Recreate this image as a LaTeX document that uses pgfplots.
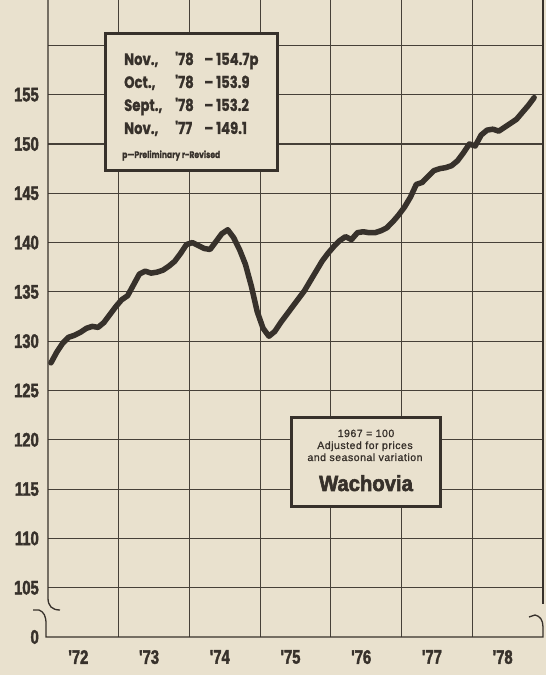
\documentclass[border=0pt]{standalone}
\usepackage{pgfplots}
\pgfplotsset{compat=1.18}
\usepackage{fontspec}
\setmainfont{Liberation Sans}
\newfontfamily\tickfont{Liberation Sans Bold}[FakeStretch=0.76, FakeBold=2]
\newfontfamily\boxfont{Poppins Bold}[FakeStretch=0.8, FakeBold=0.8]
\newfontfamily\smallfont{Liberation Sans}[LetterSpace=5, FakeBold=1.2]
\newfontfamily\brandfont{Liberation Sans Bold}[FakeStretch=0.92, FakeBold=2.5]
\definecolor{bg}{RGB}{233,225,206}
\definecolor{ink}{RGB}{55,49,43}
\definecolor{gridc}{RGB}{70,64,56}

\begin{document}
\begin{tikzpicture}
\fill[bg] (0,0) rectangle (546pt,675pt);
\begin{axis}[
  at={(48pt,38pt)}, anchor=south west,
  scale only axis, width=495pt, height=637pt,
  xmin=0, xmax=84, ymin=100, ymax=164.6,
  axis line style={draw=none},
  major tick length=0pt, minor tick length=0pt,
  xtick={6,18,30,42,54,66,78},
  xticklabels={'72,'73,'74,'75,'76,'77,'78},
  minor xtick={12,24,36,48,60,72},
  xminorgrids,
  ytick={100,105,110,115,120,125,130,135,140,145,150,155},
  yticklabels={0\hspace{5pt},105,110,115,120,125,130,135,140,145,150,155},
  minor ytick={105,110,115,120,125,130,135,140,145,150,155,160},
  yminorgrids,
  minor grid style={draw=gridc, line width=1.1pt},
  ticklabel style={font=\tickfont\fontsize{19.5}{20}\selectfont, inner sep=0pt, text=ink},
  yticklabel style={anchor=east, xshift=-9pt},
  xticklabel style={anchor=north, yshift=-13pt, xshift=-5pt},
  /pgf/number format/assume math mode=true,
]
\addplot[ink, line width=5.5pt, line join=round, line cap=round] table {
x y
0.5 127.8
1.5 128.9
2.5 129.8
3.5 130.4
4.5 130.6
5.5 130.9
6.5 131.3
7.5 131.5
8.5 131.4
9.5 131.9
10.5 132.7
11.5 133.5
12.5 134.2
13.5 134.6
14.5 135.7
15.5 136.8
16.5 137.1
17.5 136.9
18.5 137.0
19.5 137.2
20.5 137.6
21.5 138.1
22.5 138.9
23.5 139.8
24.5 140.0
25.5 139.7
26.5 139.4
27.5 139.3
28.5 140.1
29.5 140.9
30.5 141.3
31.5 140.5
32.5 139.3
33.5 137.8
34.5 135.6
35.5 133.0
36.5 131.3
37.5 130.5
38.5 131.0
39.5 131.9
40.5 132.7
41.5 133.5
42.5 134.3
43.5 135.1
44.5 136.1
45.5 137.1
46.5 138.1
47.5 138.9
48.5 139.6
49.5 140.2
50.5 140.6
51.5 140.3
52.5 141.0
53.5 141.1
54.5 141.0
55.5 141.0
56.5 141.2
57.5 141.5
58.5 142.1
59.5 142.8
60.5 143.6
61.5 144.6
62.5 145.9
63.5 146.1
64.5 146.7
65.5 147.3
66.5 147.5
67.5 147.6
68.5 147.8
69.5 148.3
70.5 149.1
71.5 150.0
72.5 149.8
73.5 150.9
74.5 151.4
75.5 151.5
76.5 151.3
77.5 151.7
78.5 152.1
79.5 152.5
80.5 153.2
81.5 153.9
82.5 154.7
};
\end{axis}
\begin{scope}[x=1pt,y=-1pt,yshift=675pt]
  % frame with breaks
  \draw[ink, line width=1.3pt] (48,0) -- (48,598) .. controls (48,606) and (52,610) .. (60,610);
  \draw[ink, line width=1.3pt] (33,610) -- (39,610) .. controls (44,612) and (46,616) .. (46,624) -- (46,637) -- (543,637) -- (543,627) .. controls (543,620) and (540,616) .. (535,615) -- (529,617);
  \draw[ink, line width=1.3pt] (543,0) -- (543,604);
  % box 1
  \filldraw[fill=bg, draw=ink, line width=3pt] (105,34) rectangle (277,171);
  \begin{scope}[every node/.style={anchor=base west, inner sep=0pt, text=ink, font=\boxfont\fontsize{16.5}{18}\selectfont}]
    \node at (124,65) {Nov.,};  \node at (175,65) {'78}; \node at (204,65) {–}; \node at (216,65) {154.7p};
    \node at (124,88) {Oct.,};  \node at (175,88) {'78}; \node at (204,88) {–}; \node at (216,88) {153.9};
    \node at (124,111) {Sept.,}; \node at (175,111) {'78}; \node at (204,111) {–}; \node at (216,111) {153.2};
    \node at (124,134) {Nov.,};  \node at (175,134) {'77}; \node at (204,134) {–}; \node at (216,134) {149.1};
  \end{scope}
  \node[anchor=base west, inner sep=0pt, text=ink, font=\boxfont\fontsize{9.5}{10}\selectfont] at (122,158) {p—Preliminary r-Revised};
  % box 2
  \filldraw[fill=bg, draw=ink, line width=3pt] (291,418) rectangle (440,507);
  \begin{scope}[every node/.style={anchor=base, inner sep=0pt, text=ink, font=\smallfont\fontsize{10.5}{12}\selectfont}]
    \node at (366,437) {1967 = 100};
    \node at (365,449) {Adjusted for prices};
    \node at (365,461) {and seasonal variation};
  \end{scope}
  \node[anchor=base, inner sep=0pt, text=ink, font=\brandfont\fontsize{22}{22}\selectfont] at (366,491) {Wachovia};
\end{scope}
\pgfresetboundingbox
\useasboundingbox (0,0) rectangle (546pt,675pt);
\end{tikzpicture}
\end{document}
